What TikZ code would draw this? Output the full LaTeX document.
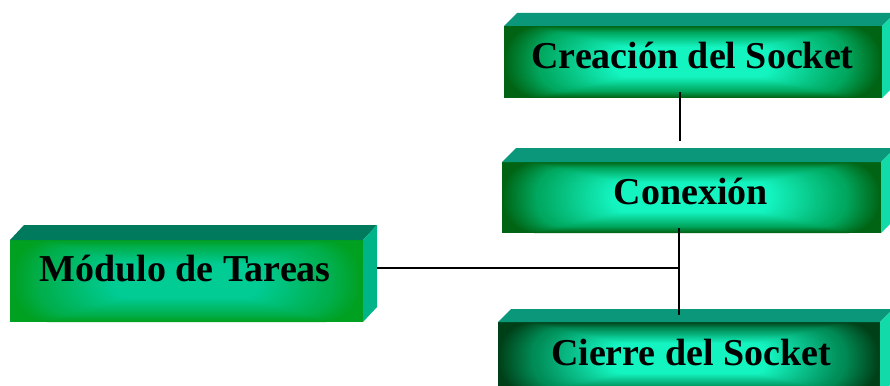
\documentclass[tikz,border=0pt]{standalone}
\usepackage{fontspec}
\setmainfont{Liberation Serif}
\usetikzlibrary{calc}

% block colours
\definecolor{glowcore}{HTML}{14F4C0}
\definecolor{glowmid}{HTML}{00A860}
\definecolor{rimgreen}{HTML}{006414}
\definecolor{darkmid}{HTML}{008C56}
\definecolor{rimdark}{HTML}{004018}
\definecolor{toptone}{HTML}{0B987A}
\definecolor{sidetone}{HTML}{12DAA8}
\definecolor{modcore}{HTML}{00CC94}
\definecolor{modmid}{HTML}{00B050}
\definecolor{modrim}{HTML}{00A020}
\definecolor{modtop}{HTML}{007A5C}
\definecolor{modside}{HTML}{00B48A}

% Glow on a front face: nested rounded rectangles from the rim colour in to the core.
% #1 node, #2 half width, #3 half height, #4 core, #5 mid, #6 rim
\newcommand\glowface[6]{%
  \begin{scope}
    \clip (#1.south west) rectangle (#1.north east);
    \fill[#6] (#1.south west) rectangle (#1.north east);
    \begin{scope}[shift={(#1.center)}]
      \foreach \k in {100,...,82}{%
        \pgfmathsetmacro\t{(\k-82)/18*100}%
        \pgfmathsetmacro\rx{#2*(\k/100)}%
        \pgfmathsetmacro\ry{#3*(\k/100)}%
        \pgfmathsetmacro\rc{0.9*\ry}%
        \fill[#6!\t!#5, rounded corners=\rc pt] (-\rx pt,-\ry pt) rectangle (\rx pt,\ry pt);
      }
      \foreach \k in {81,...,42}{%
        \pgfmathsetmacro\t{(\k-42)/39*100}%
        \pgfmathsetmacro\rx{#2*(\k/100)}%
        \pgfmathsetmacro\ry{#3*(\k/100)}%
        \pgfmathsetmacro\rc{0.9*\ry}%
        \fill[#5!\t!#4, rounded corners=\rc pt] (-\rx pt,-\ry pt) rectangle (\rx pt,\ry pt);
      }
    \end{scope}
  \end{scope}}

\begin{document}
\begin{tikzpicture}[x=1pt,y=-1pt,
  face/.style={inner sep=0pt, outer sep=0pt, draw=none},
  caption/.style={inner sep=0pt, font=\fontsize{38}{40}\selectfont\bfseries},
  wire/.style={draw=black, line width=1.6pt}]

\clip (0,0) rectangle (890,385);
\fill[white] (0,0) rectangle (890,385);

% ---- Creación del Socket
\node[face, minimum width=378pt, minimum height=72pt] (crea) at (693,62) {};
\glowface{crea}{189}{36}{glowcore}{glowmid}{rimgreen}
\fill[toptone] (crea.north west) -- ++(13,-13) -- ([shift={(13,-13)}]crea.north east) -- (crea.north east) -- cycle;
\fill[sidetone] (crea.north east) -- ++(13,-13) -- ++(0,72) -- (crea.south east) -- cycle;
\node[caption] (creaT) at (692.5,55) {Creación del Socket};

% ---- Conexión
\node[face, minimum width=379pt, minimum height=71pt] (conx) at (691.5,197.5) {};
\glowface{conx}{189.5}{35.5}{glowcore}{glowmid}{rimgreen}
\fill[toptone] (conx.north west) -- ++(14,-14) -- ([shift={(14,-14)}]conx.north east) -- (conx.north east) -- cycle;
\fill[sidetone] (conx.north east) -- ++(14,-14) -- ++(0,71) -- (conx.south east) -- cycle;
\node[caption] (conxT) at (691,191.5) {Conexión};

% ---- Cierre del Socket
\node[face, minimum width=382pt, minimum height=73pt] (cier) at (689,358.5) {};
\glowface{cier}{191}{36.5}{glowcore}{darkmid}{rimdark}
\fill[toptone] (cier.north west) -- ++(13,-13) -- ([shift={(13,-13)}]cier.north east) -- (cier.north east) -- cycle;
\fill[sidetone] (cier.north east) -- ++(13,-13) -- ++(0,73) -- (cier.south east) -- cycle;
\node[caption] (cierT) at (691,352) {Cierre del Socket};

% ---- Módulo de Tareas
\node[face, minimum width=353pt, minimum height=82pt] (modu) at (186.5,281) {};
\glowface{modu}{176.5}{41}{modcore}{modmid}{modrim}
\fill[modtop] (modu.north west) -- ++(14,-15) -- ([shift={(14,-15)}]modu.north east) -- (modu.north east) -- cycle;
\fill[modside] (modu.north east) -- ++(14,-15) -- ++(0,82) -- (modu.south east) -- cycle;
\node[caption] (moduT) at (185,268.5) {Módulo de Tareas};

% ---- connectors
\coordinate (creaOut) at (680,92);
\coordinate (conxIn)  at (680,141);
\coordinate (conxOut) at (679,228);
\coordinate (cierIn)  at (679,315);
\coordinate (join)    at (679,268);
\coordinate (moduOut) at ([xshift=14pt]modu.east |- join);

\draw[wire] (creaOut) -- (conxIn);
\draw[wire] (conxOut) -- (cierIn);
\draw[wire] (moduOut) -- (join);

\end{tikzpicture}
\end{document}
